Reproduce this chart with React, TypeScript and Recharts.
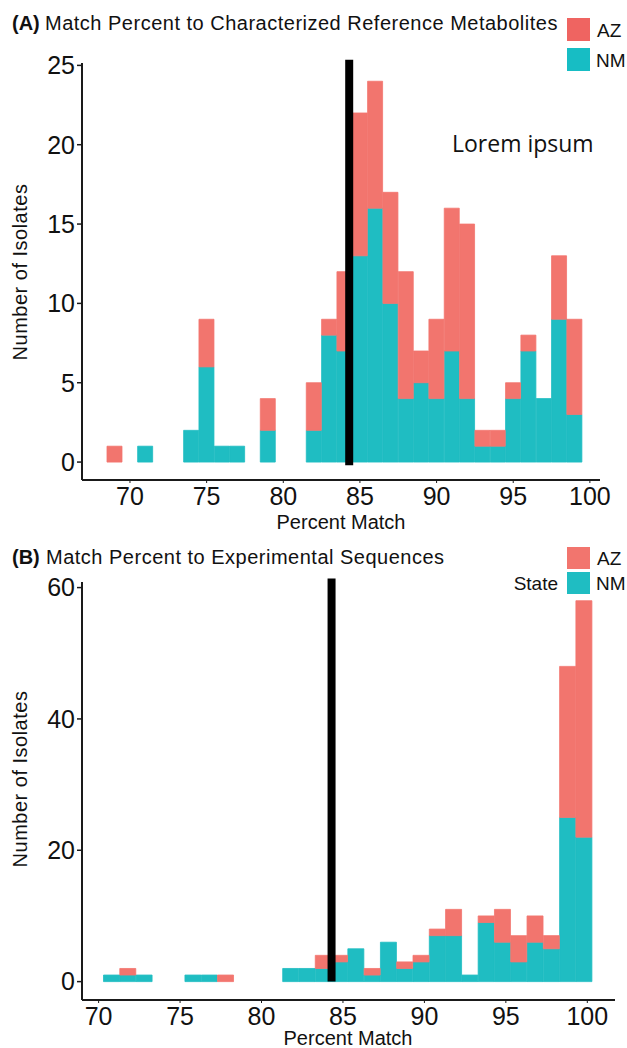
import React from "react";
import { BarChart, Bar, XAxis, YAxis, ReferenceLine } from "recharts";

// panel A: match percent to characterized reference metabolites
const binsA = [69, 70, 71, 72, 73, 74, 75, 76, 77, 78, 79, 80, 81, 82, 83, 84, 85, 86, 87, 88, 89, 90, 91, 92, 93, 94, 95, 96, 97, 98, 99];
const nmA = [0, 0, 1, 0, 0, 2, 6, 1, 1, 0, 2, 0, 0, 2, 8, 7, 13, 16, 10, 4, 5, 4, 7, 4, 1, 1, 4, 7, 4, 9, 3];
const azA = [1, 0, 0, 0, 0, 0, 3, 0, 0, 0, 2, 0, 0, 3, 1, 5, 9, 8, 7, 8, 2, 5, 9, 11, 1, 1, 1, 1, 0, 4, 6];

// panel B: match percent to experimental sequences
const binsB = [70.8, 71.8, 72.8, 73.8, 74.8, 75.8, 76.8, 77.8, 78.8, 79.8, 80.8, 81.8, 82.8, 83.8, 84.8, 85.8, 86.8, 87.8, 88.8, 89.8, 90.8, 91.8, 92.8, 93.8, 94.8, 95.8, 96.8, 97.8, 98.8, 99.8];
const nmB = [1, 1, 1, 0, 0, 1, 1, 0, 0, 0, 0, 2, 2, 2, 3, 5, 1, 6, 2, 3, 7, 7, 1, 9, 6, 3, 6, 5, 25, 22];
const azB = [0, 1, 0, 0, 0, 0, 0, 1, 0, 0, 0, 0, 0, 2, 1, 0, 1, 0, 1, 1, 1, 4, 0, 1, 5, 4, 4, 2, 23, 36];

const xTicks = [70, 75, 80, 85, 90, 95, 100];
const yTicksA = [0, 5, 10, 15, 20, 25];
const yTicksB = [0, 20, 40, 60];
const cutoff = 84.3;

const RED = "#F2756E";
const TEAL = "#1FBDC2";
const FONT = "'Liberation Sans', Arial, sans-serif";

const dataA = binsA.map((b, i) => ({ bin: b, NM: nmA[i], AZ: azA[i] }));
const dataB = binsB.map((b, i) => ({ bin: b, NM: nmB[i], AZ: azB[i] }));

const tickStyle = { fill: "#111", fontSize: 25, fontFamily: FONT };
const axisLine = { stroke: "#1a1a1a", strokeWidth: 2 };

function Txt({ x, y, size = 20, children, style }: any) {
  return (
    <div style={{ position: "absolute", left: x, top: y, fontSize: size, fontFamily: FONT, color: "#111", whiteSpace: "nowrap", lineHeight: 1, ...style }}>
      {children}
    </div>
  );
}

function Swatch({ x, y, w, h, color }: any) {
  return <div style={{ position: "absolute", left: x, top: y, width: w, height: h, background: color }} />;
}

export default function App() {
  return (
    <div style={{ position: "absolute", left: 0, top: 0, width: 627, height: 1048, background: "#fff" }}>
      {/* Panel A */}
      <div style={{ position: "absolute", left: 0, top: 0 }}>
        <BarChart width={627} height={530} data={dataA} margin={{ top: 63, right: 27, bottom: 20, left: 0 }} barCategoryGap={0} barGap={0}>
          <XAxis type="number" dataKey="bin" domain={[66.87, 100.66]} allowDataOverflow ticks={xTicks} height={30}
            tick={tickStyle} tickSize={3} tickMargin={4} axisLine={axisLine} tickLine={{ stroke: "#1a1a1a" }} />
          <YAxis type="number" domain={[-1.13, 25.15]} allowDataOverflow ticks={yTicksA} width={82}
            tick={tickStyle} tickSize={5} tickMargin={2} axisLine={axisLine} tickLine={{ stroke: "#1a1a1a", strokeWidth: 1.5 }} />
          <Bar dataKey="NM" stackId="s" fill={TEAL} stroke={TEAL} strokeWidth={0.8} isAnimationActive={false} />
          <Bar dataKey="AZ" stackId="s" fill={RED} stroke={RED} strokeWidth={0.8} isAnimationActive={false} />
          <ReferenceLine segment={[{ x: cutoff, y: -0.2 }, { x: cutoff, y: 25.35 }]} stroke="#000" strokeWidth={8} ifOverflow="visible" />
        </BarChart>
      </div>

      {/* Panel B */}
      <div style={{ position: "absolute", left: 0, top: 530 }}>
        <BarChart width={627} height={518} data={dataB} margin={{ top: 52, right: 12, bottom: 18, left: 0 }} barCategoryGap={0} barGap={0}>
          <XAxis type="number" dataKey="bin" domain={[68.98, 101.7]} allowDataOverflow ticks={xTicks} height={30}
            tick={tickStyle} tickSize={3} tickMargin={4} axisLine={axisLine} tickLine={{ stroke: "#1a1a1a" }} />
          <YAxis type="number" domain={[-2.8, 60.85]} allowDataOverflow ticks={yTicksB} width={82}
            tick={tickStyle} tickSize={5} tickMargin={2} axisLine={axisLine} tickLine={{ stroke: "#1a1a1a", strokeWidth: 1.5 }} />
          <Bar dataKey="NM" stackId="s" fill={TEAL} stroke={TEAL} strokeWidth={0.8} isAnimationActive={false} />
          <Bar dataKey="AZ" stackId="s" fill={RED} stroke={RED} strokeWidth={0.8} isAnimationActive={false} />
          <ReferenceLine segment={[{ x: cutoff, y: 0 }, { x: cutoff, y: 61.4 }]} stroke="#000" strokeWidth={8} ifOverflow="visible" />
        </BarChart>
      </div>

      {/* titles */}
      <Txt x={12} y={13}><b>(A)</b></Txt>
      <Txt x={45} y={13} style={{ letterSpacing: 0.5 }}>Match Percent to Characterized Reference Metabolites</Txt>
      <Txt x={12} y={547}><b>(B)</b></Txt>
      <Txt x={46} y={547} style={{ letterSpacing: 0.5 }}>Match Percent to Experimental Sequences</Txt>

      {/* legends */}
      <Swatch x={567} y={18} w={23} h={23} color="#EF6461" />
      <Swatch x={567} y={48} w={23} h={23} color="#17BDC4" />
      <Txt x={597} y={21} size={19}>AZ</Txt>
      <Txt x={596} y={51} size={19}>NM</Txt>

      <Swatch x={567} y={547} w={23} h={22} color={RED} />
      <Swatch x={567} y={572} w={23} h={22} color={TEAL} />
      <Txt x={597} y={549} size={19}>AZ</Txt>
      <Txt x={596} y={574} size={19}>NM</Txt>
      <Txt x={558} y={574} size={19} style={{ transform: "translateX(-100%)" }}>State</Txt>

      {/* annotation */}
      <Txt x={452} y={132} size={23} style={{ fontFamily: "'Open Sans', sans-serif" }}>Lorem ipsum</Txt>

      {/* axis titles */}
      <Txt x={341} y={522} style={{ transform: "translate(-50%, -50%)" }}>Percent Match</Txt>
      <Txt x={20} y={272} style={{ transform: "translate(-50%, -50%) rotate(-90deg)", letterSpacing: 0.5 }}>Number of Isolates</Txt>
      <Txt x={348} y={1038} style={{ transform: "translate(-50%, -50%)" }}>Percent Match</Txt>
      <Txt x={20} y={779} style={{ transform: "translate(-50%, -50%) rotate(-90deg)", letterSpacing: 0.5 }}>Number of Isolates</Txt>
    </div>
  );
}
